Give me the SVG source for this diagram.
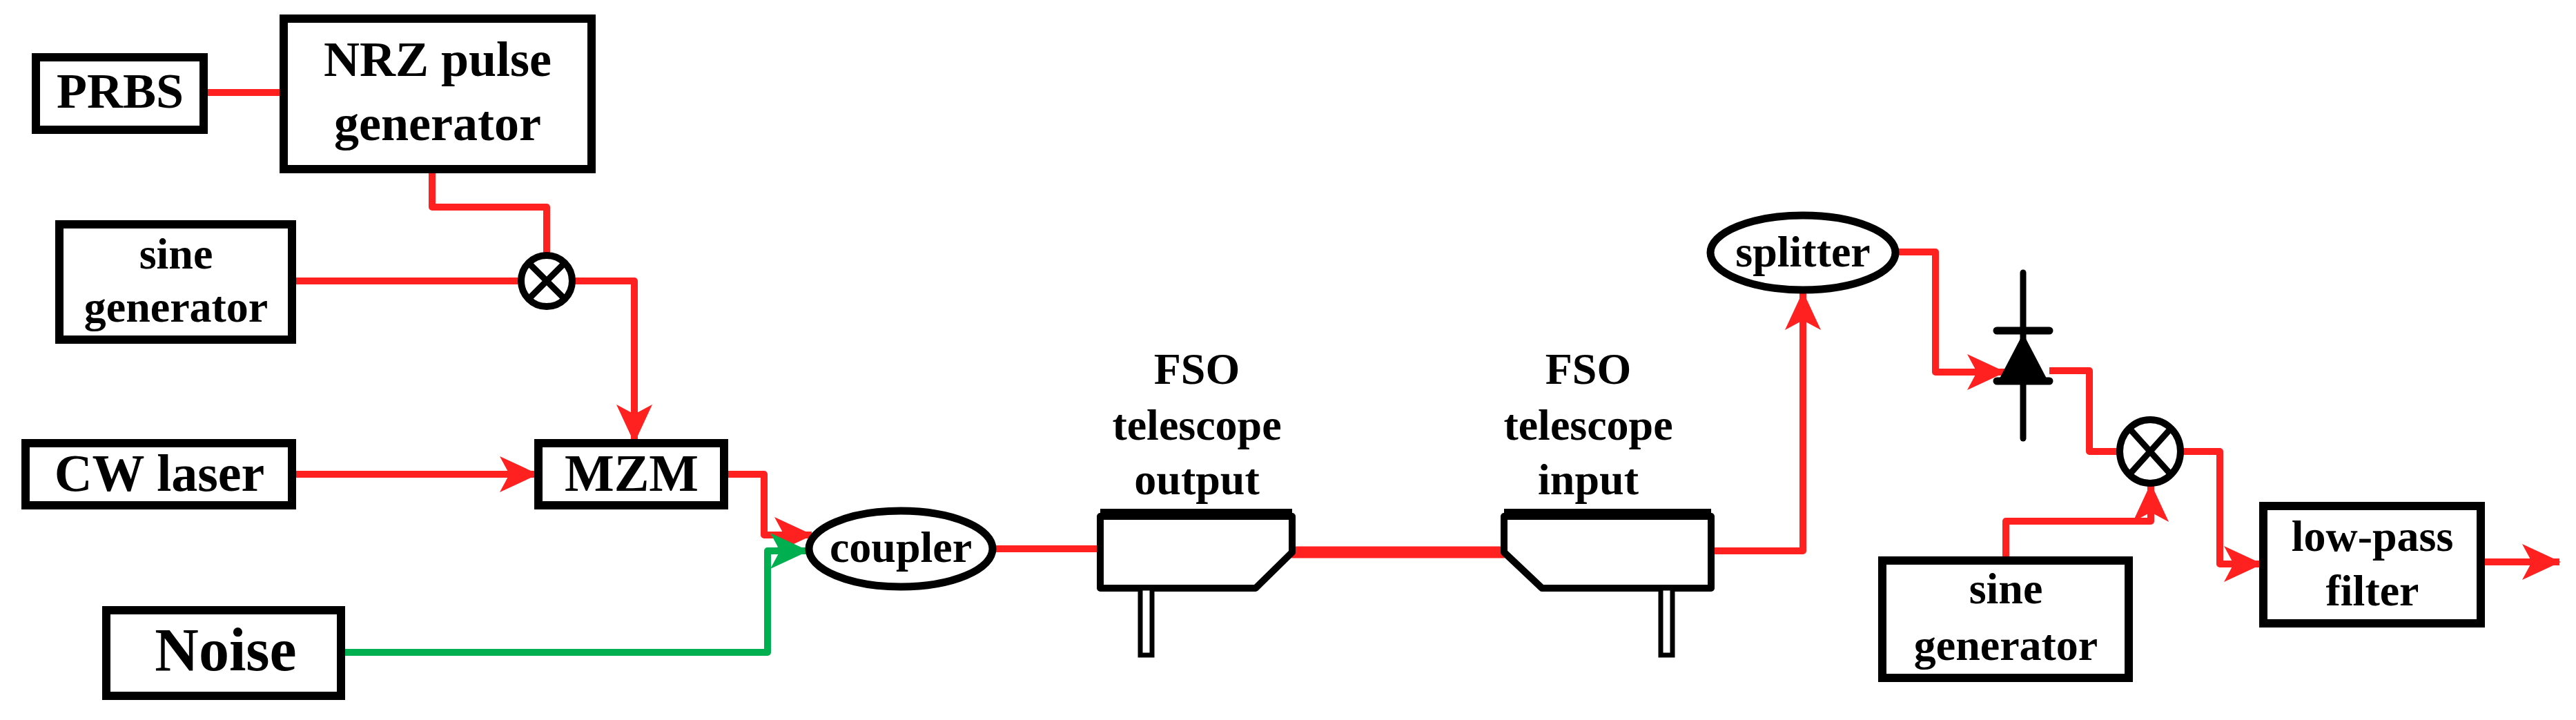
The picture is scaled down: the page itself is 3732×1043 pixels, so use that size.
<svg xmlns="http://www.w3.org/2000/svg" width="3732" height="1043" viewBox="0 0 3732 1043">
<style>
.box{fill:#fff;stroke:#000;stroke-width:12}
.t{font-family:"Liberation Serif","Times New Roman","DejaVu Serif",serif;font-weight:bold;text-anchor:middle;fill:#000}
.r{fill:none;stroke:#ff2020;stroke-width:10;stroke-linejoin:round}
.g{fill:none;stroke:#00b050;stroke-width:10;stroke-linejoin:round}
</style>
<defs>
<marker id="ar" markerUnits="userSpaceOnUse" markerWidth="60" markerHeight="60" viewBox="0 0 60 60" refX="54" refY="30" orient="auto"><path d="M0,4 L56,30 L0,56 L14,30 Z" fill="#ff2020"/></marker>
<marker id="ag" markerUnits="userSpaceOnUse" markerWidth="60" markerHeight="60" viewBox="0 0 60 60" refX="54" refY="30" orient="auto"><path d="M0,4 L56,30 L0,56 L14,30 Z" fill="#00b050"/></marker>
</defs>
<g id="connectors">
<path class="r" d="M295,134 H411"/>
<path class="r" d="M626,245 V300 H792 V366"/>
<path class="r" d="M423,407 H752"/>
<path class="r" d="M832,407 H919 V640" marker-end="url(#ar)"/>
<path class="r" d="M423,687 H778" marker-end="url(#ar)"/>
<path class="r" d="M1049,687 H1107 V775 H1176" marker-end="url(#ar)"/>
<path class="g" d="M494,945 H1112 V798 H1170" marker-end="url(#ag)"/>
<path class="r" d="M1439,795 H1594"/>
<path d="M1872,800 H2179" stroke="#ff2020" stroke-width="17" stroke-linecap="round"/>
<path class="r" d="M2481,798 H2612 V424" marker-end="url(#ar)"/>
<path class="r" d="M2748,365 H2804 V539 H2904" marker-end="url(#ar)"/>
<path class="r" d="M2969,537 H3027 V654 H3069"/>
<path class="r" d="M3161,654 H3216 V817 H3276" marker-end="url(#ar)"/>
<path class="r" d="M2906,812 V755 H3116 V702" marker-end="url(#ar)"/>
<path class="r" d="M3594,814 H3708" marker-end="url(#ar)"/>
</g>
<g id="prbs"><rect class="box" x="52" y="83" width="243" height="105"/><text class="t" x="174" y="156" font-size="72">PRBS</text></g>
<g id="nrz"><rect class="box" x="411" y="27" width="446" height="218"/><text class="t" x="634" y="110" font-size="72">NRZ pulse</text><text class="t" x="634" y="203" font-size="72">generator</text></g>
<g id="sine1"><rect class="box" x="86" y="325" width="337" height="167"/><text class="t" x="255" y="389" font-size="64">sine</text><text class="t" x="255" y="466" font-size="64">generator</text></g>
<g id="mult1"><circle cx="792" cy="407" r="37" fill="#fff" stroke="#000" stroke-width="10"/><path d="M766,381 L818,433 M818,381 L766,433" stroke="#000" stroke-width="9"/></g>
<g id="cw"><rect class="box" x="37" y="642" width="386" height="90"/><text class="t" x="231" y="711" font-size="76">CW laser</text></g>
<g id="mzm"><rect class="box" x="780" y="642" width="269" height="90"/><text class="t" x="915" y="711" font-size="76">MZM</text></g>
<g id="noise"><rect class="box" x="154" y="884" width="340" height="124"/><text class="t" x="327" y="971" font-size="88">Noise</text></g>
<g id="coupler"><ellipse cx="1305" cy="795" rx="133" ry="55" fill="#fff" stroke="#000" stroke-width="11"/><text class="t" x="1305" y="814" font-size="64">coupler</text></g>
<g id="tx"><text class="t" x="1734" y="556" font-size="64">FSO</text><text class="t" x="1734" y="637" font-size="64">telescope</text><text class="t" x="1734" y="716" font-size="64">output</text>
<path d="M1594,748 H1872 V800 L1819,852 H1594 Z" fill="#fff" stroke="#000" stroke-width="10" stroke-linejoin="round"/><path d="M1594,744 H1872" stroke="#000" stroke-width="14"/><rect x="1652" y="852" width="17" height="97" fill="#fff" stroke="#000" stroke-width="7"/></g>
<g id="rx"><text class="t" x="2301" y="556" font-size="64">FSO</text><text class="t" x="2301" y="637" font-size="64">telescope</text><text class="t" x="2301" y="716" font-size="64">input</text>
<path d="M2179,748 H2479 V852 H2234 L2179,800 Z" fill="#fff" stroke="#000" stroke-width="10" stroke-linejoin="round"/><path d="M2179,744 H2479" stroke="#000" stroke-width="14"/><rect x="2406" y="852" width="17" height="97" fill="#fff" stroke="#000" stroke-width="7"/></g>
<g id="splitter"><ellipse cx="2612" cy="366" rx="134" ry="54" fill="#fff" stroke="#000" stroke-width="11"/><text class="t" x="2612" y="386" font-size="64">splitter</text></g>
<g id="diode"><path d="M2931,395 V635" stroke="#000" stroke-width="9" stroke-linecap="round"/><path d="M2893,479 H2969 M2893,552 H2969" stroke="#000" stroke-width="11" stroke-linecap="round"/><path d="M2931,483 L2966,550 H2896 Z" fill="#000"/></g>
<g id="mult2"><ellipse cx="3115" cy="654" rx="44" ry="46" fill="#fff" stroke="#000" stroke-width="10"/><path d="M3088,624 L3142,684 M3142,624 L3088,684" stroke="#000" stroke-width="9"/></g>
<g id="sine2"><rect class="box" x="2727" y="812" width="357" height="170"/><text class="t" x="2906" y="874" font-size="64">sine</text><text class="t" x="2906" y="956" font-size="64">generator</text></g>
<g id="lpf"><rect class="box" x="3279" y="733" width="315" height="170"/><text class="t" x="3437" y="798" font-size="64">low-pass</text><text class="t" x="3437" y="877" font-size="64">filter</text></g>
</svg>
